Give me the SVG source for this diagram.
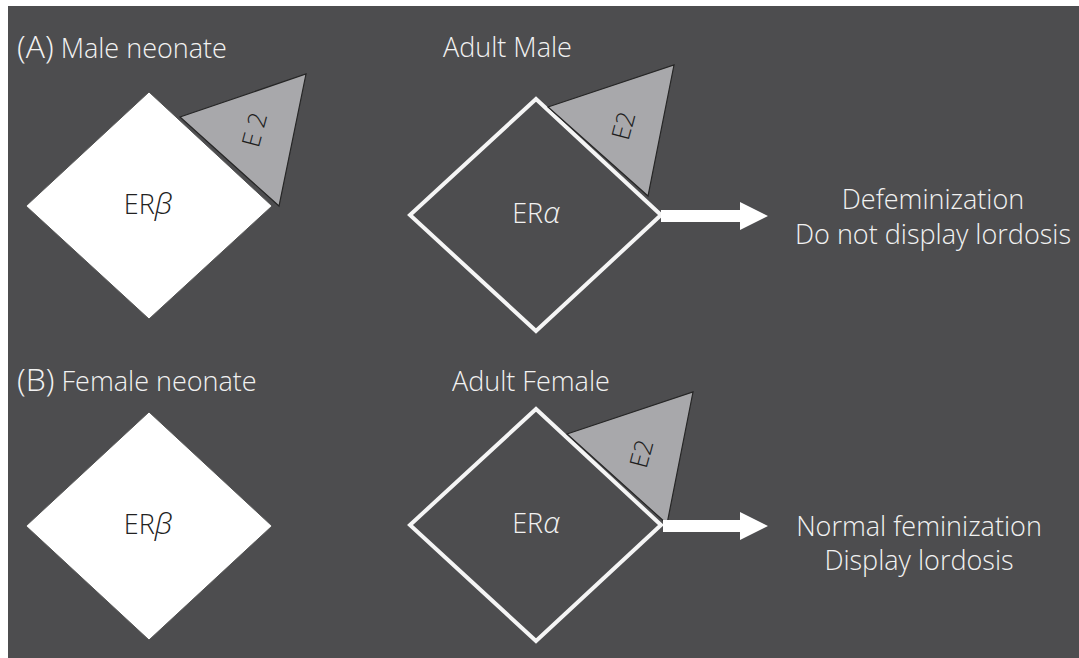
<svg xmlns="http://www.w3.org/2000/svg" width="1079" height="658" viewBox="0 0 1079 658">
<style>
.t{font-family:"Open Sans","Liberation Sans",sans-serif;font-weight:300;fill:#f2f2f2;font-size:27px}
.d{font-family:"Open Sans","Liberation Sans",sans-serif;font-weight:300;fill:#222;font-size:27px}
.e{font-family:"Open Sans","Liberation Sans",sans-serif;font-weight:300;fill:#1e1e1e;font-size:25px}
.tri{fill:#a8a8ab;stroke:#262626;stroke-width:1.2}
.solid{fill:#fff;stroke:#555;stroke-width:1}
.outl{fill:none;stroke:#f5f5f5;stroke-width:4}
.g{font-style:italic;font-size:30px}
.p{font-size:32px}
</style>
<rect x="8" y="6" width="1071" height="652" fill="#4d4d4f"/>
<g id="labels">
<text class="t" x="17" y="58"><tspan class="p">(A)</tspan> Male neonate</text>
<text class="t" x="443" y="57">Adult Male</text>
<text class="t" x="17" y="391"><tspan class="p">(B)</tspan> Female neonate</text>
<text class="t" x="452" y="391">Adult Female</text>
</g>
<g id="A-neonate">
<polygon class="solid" points="149,92 272,206 149,319 26,206"/>
<text class="d" x="148" y="214" text-anchor="middle">ER<tspan class="g">β</tspan></text>
</g>
<g id="A-E2">
<polygon class="tri" points="180,117 306,74 279,206"/>
<text class="e" x="0" y="0" transform="translate(263,132) rotate(-75)" text-anchor="middle">E 2</text>
</g>
<g id="A-adult">
<polygon class="outl" points="536,99 661,215 536,331 410,215"/>
<text class="t" x="536" y="223" text-anchor="middle">ER<tspan class="g">α</tspan></text>
</g>
<g id="A-adult-E2">
<polygon class="tri" points="548,107 674,65 648,196"/>
<text class="e" x="0" y="0" transform="translate(632,128) rotate(-75)" text-anchor="middle">E2</text>
</g>
<g id="B-neonate">
<polygon class="solid" points="149,412 272,526 149,640 26,526"/>
<text class="d" x="148" y="534" text-anchor="middle">ER<tspan class="g">β</tspan></text>
</g>
<g id="B-adult">
<polygon class="outl" points="536,409 661,525 536,641 410,525"/>
<text class="t" x="536" y="533" text-anchor="middle">ER<tspan class="g">α</tspan></text>
</g>
<g id="B-adult-E2">
<polygon class="tri" points="567,434 693,392 667,524"/>
<text class="e" x="0" y="0" transform="translate(650,456) rotate(-75)" text-anchor="middle">E2</text>
</g>
<g id="connectors" fill="#fff">
<polygon points="661,210 740,210 740,202 768,216 740,230 740,222 661,222"/>
<polygon points="663,520 740,520 740,512 768,526 740,540 740,532 663,532"/>
</g>
<g id="outcomes">
<text class="t" x="933" y="209" text-anchor="middle">Defeminization</text>
<text class="t" x="933" y="244" text-anchor="middle">Do not display lordosis</text>
<text class="t" x="919" y="536" text-anchor="middle">Normal feminization</text>
<text class="t" x="919" y="570" text-anchor="middle">Display lordosis</text>
</g>
</svg>
